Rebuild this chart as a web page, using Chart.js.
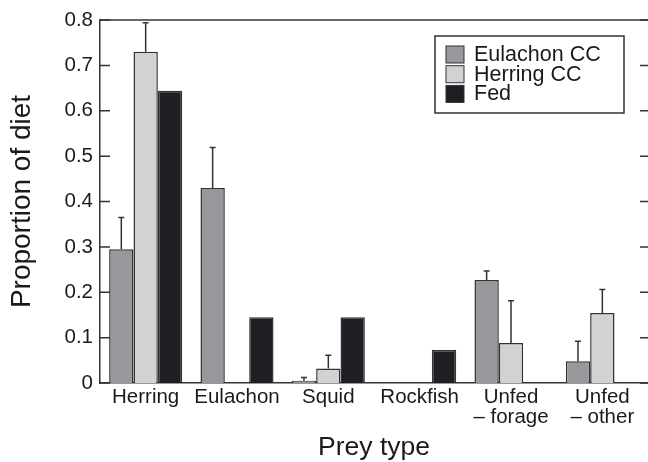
<!DOCTYPE html>
<html>
<head>
<meta charset="utf-8">
<script src="https://cdn.jsdelivr.net/npm/chart.js@4"></script>
<style>
  html, body { margin: 0; padding: 0; background: #fff; }
  #wrap { width: 648px; height: 462px; position: relative; }
</style>
</head>
<body>
<div id="wrap"><canvas id="dietChart"></canvas></div>
<script>
// data
const categories = ['Herring', 'Eulachon', 'Squid', 'Rockfish', ['Unfed', '\u2013 forage'], ['Unfed', '\u2013 other']];
const eulachonCC = [0.295, 0.43, 0.005, 0, 0.227, 0.048];
const eulachonCCErr = [0.07, 0.089, 0.007, 0, 0.02, 0.044];
const herringCC = [0.73, 0, 0.032, 0, 0.088, 0.154];
const herringCCErr = [0.064, 0, 0.029, 0, 0.093, 0.052];
const fed = [0.644, 0.145, 0.145, 0.073, 0, 0];
const yTicks = [0, 0.1, 0.2, 0.3, 0.4, 0.5, 0.6, 0.7, 0.8];

const FONT = '"Liberation Sans", Arial, Helvetica, sans-serif';
const INK = '#333333';

// error bars, inward ticks, top frame and the boxed legend
const extras = {
    id: 'extras',
    afterDatasetsDraw(chart) {
        const ctx = chart.ctx;
        const area = chart.chartArea;
        const y = chart.scales.y;
        ctx.save();
        ctx.strokeStyle = INK;
        ctx.lineWidth = 1.5;

        // error bars (upper only)
        chart.data.datasets.forEach((ds, i) => {
            if (!ds.errors) return;
            const meta = chart.getDatasetMeta(i);
            meta.data.forEach((bar, j) => {
                const e = ds.errors[j];
                if (!e) return;
                const top = y.getPixelForValue(ds.data[j] + e);
                ctx.beginPath();
                ctx.moveTo(bar.x, bar.y);
                ctx.lineTo(bar.x, top);
                ctx.moveTo(bar.x - 3, top);
                ctx.lineTo(bar.x + 3, top);
                ctx.stroke();
            });
        });

        // top frame line
        ctx.beginPath();
        ctx.moveTo(area.left, area.top);
        ctx.lineTo(648, area.top);
        ctx.stroke();

        // inward ticks on both sides
        yTicks.forEach(v => {
            const py = y.getPixelForValue(v);
            ctx.beginPath();
            ctx.moveTo(area.left - 1, py);
            ctx.lineTo(area.left + 10, py);
            ctx.moveTo(640, py);
            ctx.lineTo(648, py);
            ctx.stroke();
        });

        // legend box
        const bx = 435, by = 36, bw = 189, bh = 77;
        ctx.strokeRect(bx, by, bw, bh);
        ctx.font = '21.5px ' + FONT;
        ctx.textBaseline = 'middle';
        ctx.textAlign = 'left';
        chart.data.datasets.forEach((ds, i) => {
            const sy = by + 10 + i * 19.7;
            ctx.fillStyle = ds.backgroundColor;
            ctx.fillRect(bx + 11, sy, 18, 17);
            ctx.lineWidth = 1;
            ctx.strokeRect(bx + 11, sy, 18, 17);
            ctx.fillStyle = '#1a1a1a';
            ctx.fillText(ds.label, bx + 39, sy + 9);
        });
        ctx.restore();
    }
};

const ctx = document.getElementById('dietChart').getContext('2d');
const myChart = new Chart(ctx, {
    type: 'bar',
    data: {
        labels: categories,
        datasets: [
            { label: 'Eulachon CC', data: eulachonCC, errors: eulachonCCErr, backgroundColor: '#98979c' },
            { label: 'Herring CC', data: herringCC, errors: herringCCErr, backgroundColor: '#d1d2d4' },
            { label: 'Fed', data: fed, backgroundColor: '#1e1f22' }
        ]
    },
    options: {
        responsive: true,
        maintainAspectRatio: false,
        animation: false,
        layout: { padding: { top: 20, right: 0, left: 0, bottom: 0 } },
        datasets: {
            bar: {
                categoryPercentage: 0.8,
                barPercentage: 1.0,
                borderColor: INK,
                borderWidth: 1.5,
                borderSkipped: 'bottom'
            }
        },
        plugins: {
            legend: { display: false },
            tooltip: { enabled: false }
        },
        scales: {
            x: {
                grid: { display: false, drawTicks: false },
                border: { display: true, color: INK, width: 1.5 },
                ticks: {
                    color: '#1a1a1a',
                    font: { family: FONT, size: 20.5, lineHeight: 1.0 },
                    padding: 4,
                    maxRotation: 0,
                    autoSkip: false
                },
                title: {
                    display: true,
                    text: 'Prey type',
                    color: '#1a1a1a',
                    font: { family: FONT, size: 26.5, lineHeight: 1.0 },
                    padding: { top: 0, bottom: 1 }
                },
                afterFit: s => { s.height = 79; }
            },
            y: {
                min: 0,
                max: 0.8,
                grid: { display: false, drawTicks: false },
                border: { display: true, color: INK, width: 1.5 },
                ticks: {
                    stepSize: 0.1,
                    color: '#1a1a1a',
                    font: { family: FONT, size: 20.5 },
                    padding: 7,
                    callback: v => v === 0 ? '0' : v.toFixed(1)
                },
                title: {
                    display: true,
                    text: 'Proportion of diet',
                    color: '#1a1a1a',
                    font: { family: FONT, size: 28, lineHeight: 1.0 },
                    padding: { top: 8, bottom: 0 }
                },
                afterFit: s => { s.width = 100; }
            }
        }
    },
    plugins: [extras]
});
</script>
</body>
</html>
